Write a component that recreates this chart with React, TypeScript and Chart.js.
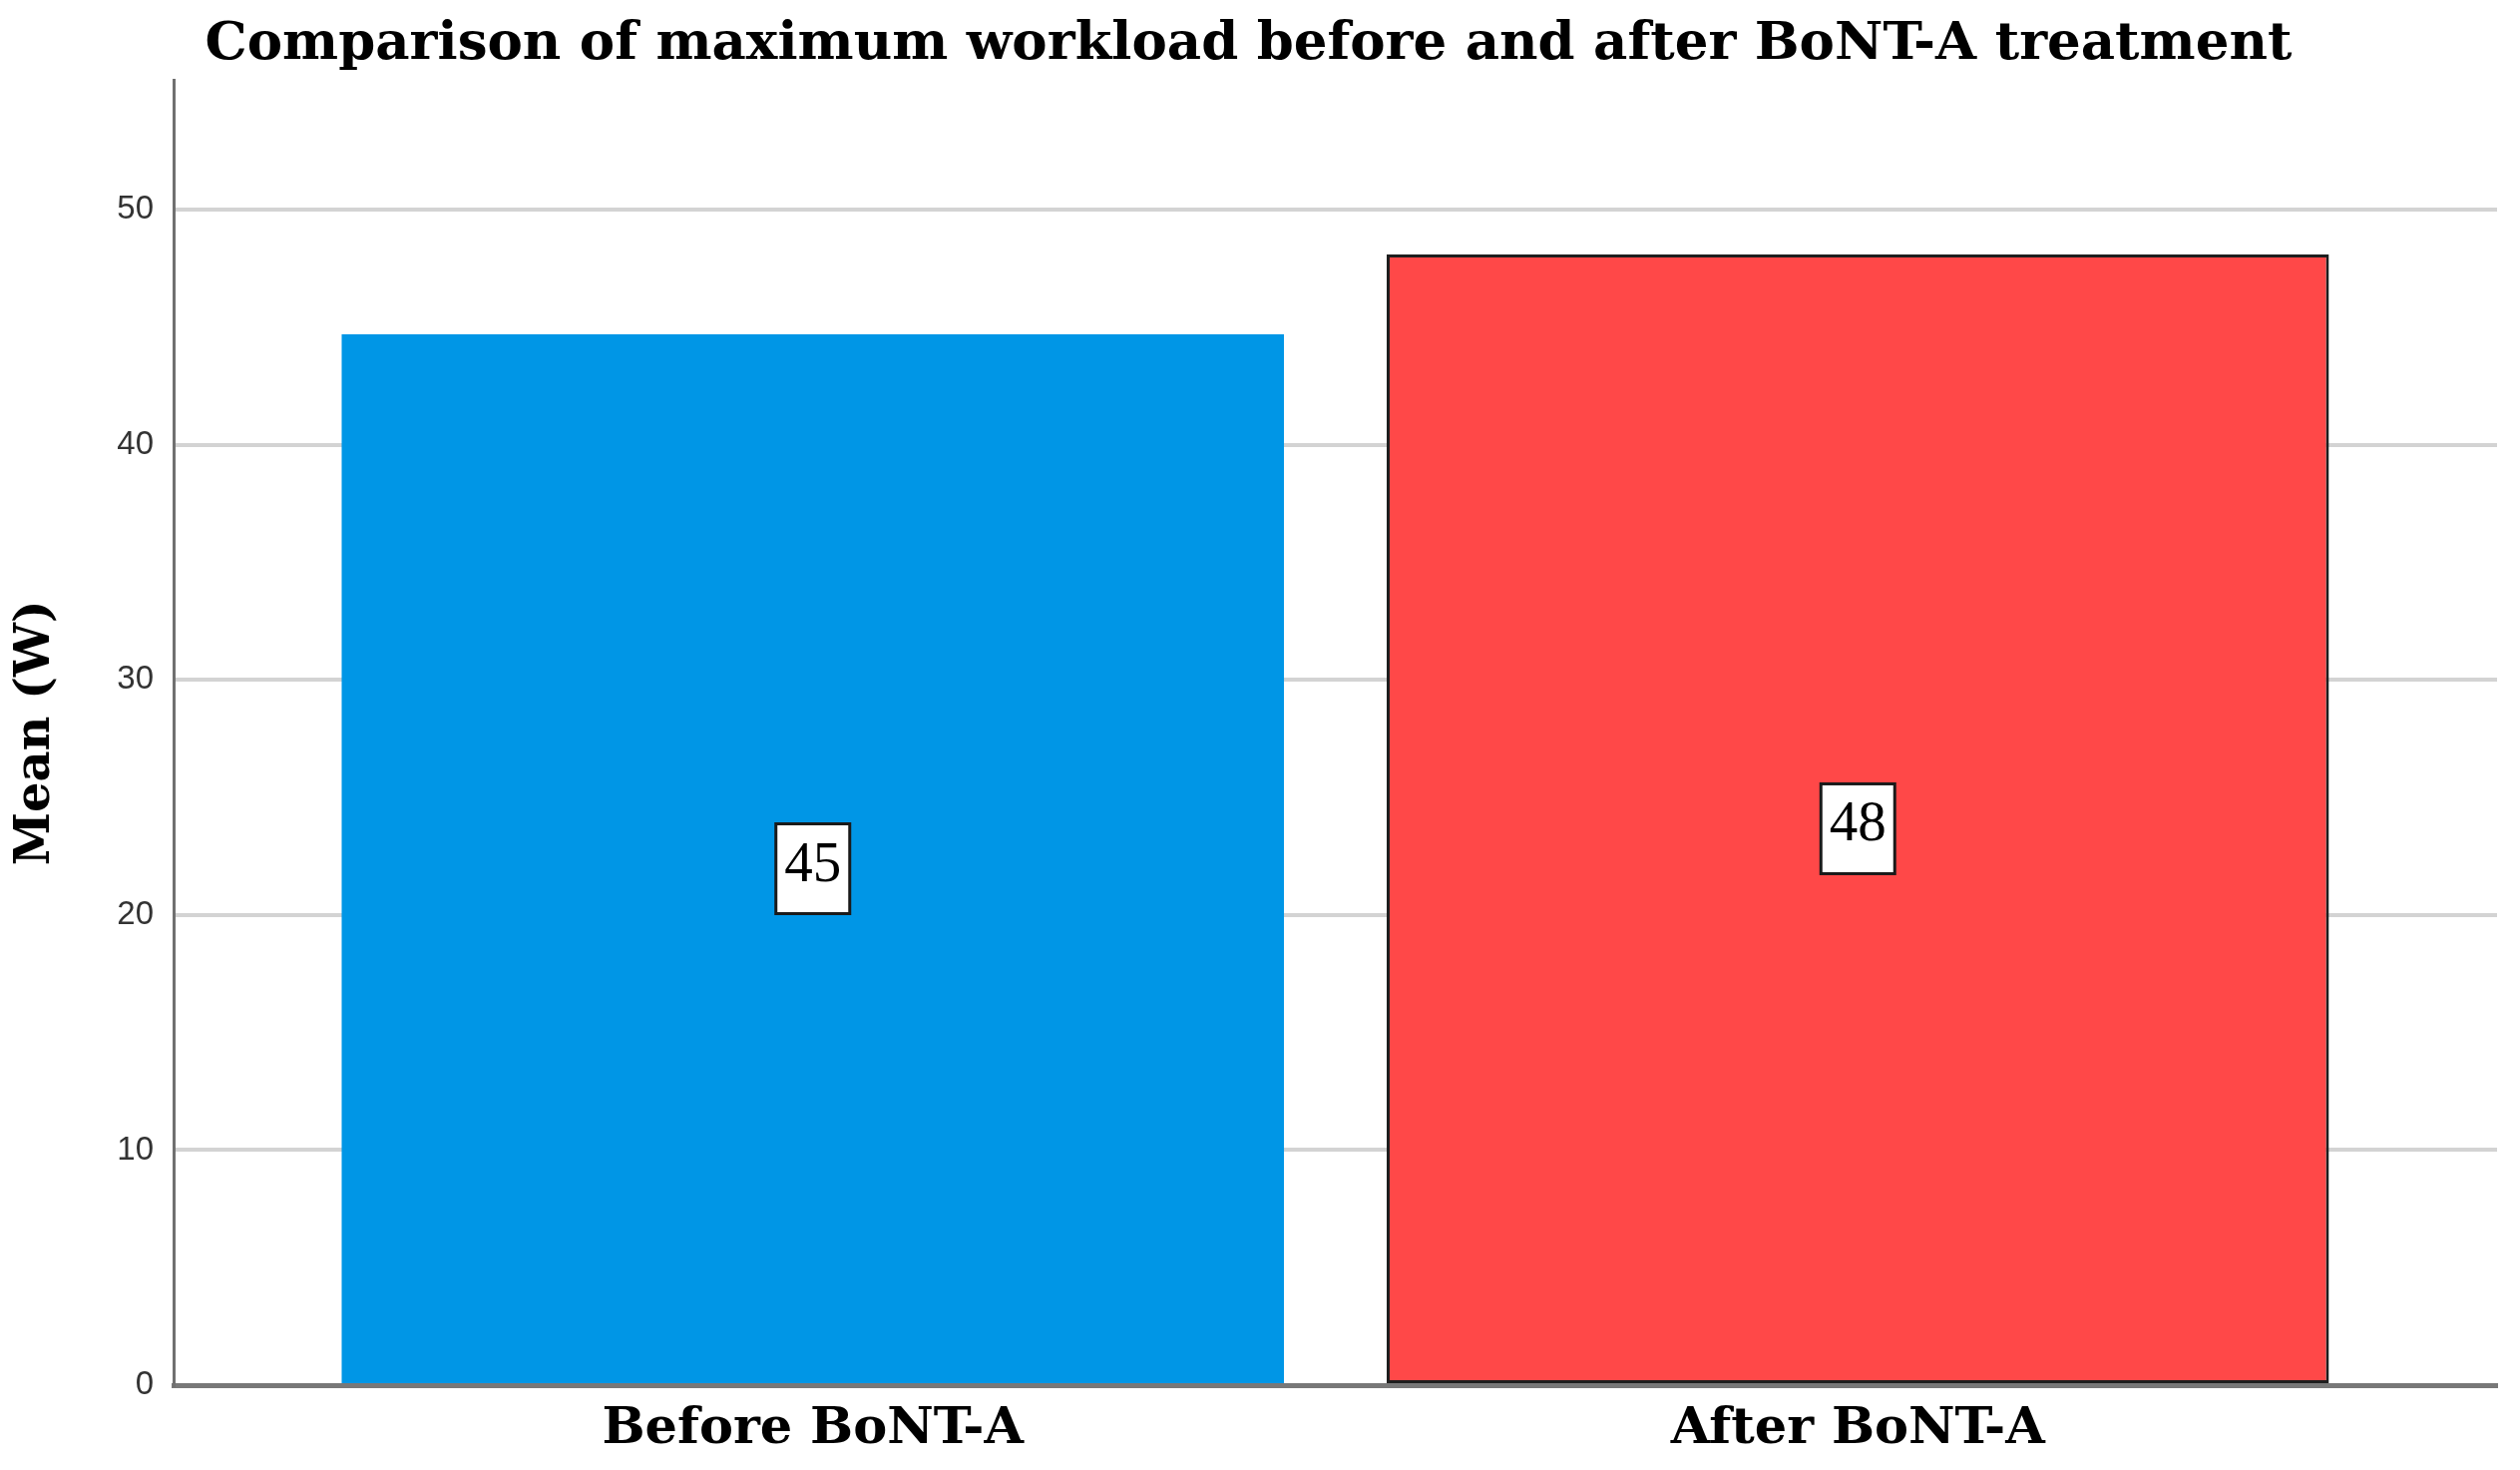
import { useEffect, useRef } from 'react';
import { Chart, registerables } from 'chart.js';

Chart.register(...registerables);

// values
const categories = ['Before BoNT-A', 'After BoNT-A'];
const meanWorkload = [44.7, 48.1];
const barColors = ['#0096e6', '#ff4848'];
const barBorderColors = ['#0096e6', '#1e1e1e'];
const barBorderWidths = [0, 3];
const yTicks = [0, 10, 20, 30, 40, 50];

// white boxes with the rounded mean inside each bar
const boxLabels = {
  id: 'boxLabels',
  afterDatasetsDraw(chart: Chart) {
    const { ctx } = chart;
    const meta = chart.getDatasetMeta(0);
    ctx.save();
    meta.data.forEach((bar: any, i: number) => {
      const mid = (bar.y + bar.base) / 2;
      const w = 74;
      const h = 90;
      const left = bar.x - w / 2;
      const top = mid - 35;
      ctx.fillStyle = '#ffffff';
      ctx.fillRect(left, top, w, h);
      ctx.lineWidth = 3;
      ctx.strokeStyle = '#1a1a1a';
      ctx.strokeRect(left, top, w, h);
      ctx.fillStyle = '#000000';
      ctx.font = '57px "Liberation Serif"';
      ctx.textAlign = 'center';
      ctx.textBaseline = 'alphabetic';
      ctx.fillText(String(Math.round(meanWorkload[i])), bar.x, top + 57);
    });
    ctx.restore();
  },
};

const App = () => {
  const chartRef = useRef<HTMLCanvasElement>(null);
  const chartInstance = useRef<Chart | null>(null);

  useEffect(() => {
    if (!chartRef.current) return;
    if (chartInstance.current) chartInstance.current.destroy();
    const ctx = chartRef.current.getContext('2d');
    if (!ctx) return;

    chartInstance.current = new Chart(ctx, {
      type: 'bar',
      data: {
        datasets: [
          {
            data: categories.map((c, i) => ({ x: i, y: meanWorkload[i] })),
            backgroundColor: barColors,
            borderColor: barBorderColors,
            borderWidth: barBorderWidths,
            borderSkipped: false,
            barPercentage: 0.9017,
            categoryPercentage: 1,
          },
        ],
      },
      options: {
        responsive: true,
        maintainAspectRatio: false,
        animation: false,
        layout: { padding: { left: 0, right: 23, top: 0, bottom: 0 } },
        plugins: {
          legend: { display: false },
          tooltip: { enabled: false },
          title: {
            display: true,
            text: 'Comparison of maximum workload before and after BoNT-A treatment',
            color: '#000000',
            font: { family: '"DejaVu Serif"', size: 53, weight: 'bold' },
            padding: { top: 13, bottom: 4 },
          },
        },
        scales: {
          x: {
            type: 'linear',
            min: -0.6117,
            max: 1.6117,
            offset: false,
            afterBuildTicks: (scale: any) => {
              scale.ticks = categories.map((c, i) => ({ value: i }));
            },
            afterFit: (scale: any) => {
              scale.height = 85;
            },
            grid: { display: false, drawTicks: false },
            border: { display: true, color: '#787878', width: 5 },
            ticks: {
              padding: 14,
              color: '#000000',
              font: { family: '"DejaVu Serif"', size: 51, weight: 'bold' },
              callback: (v: any) => categories[v] ?? '',
              maxRotation: 0,
            },
          },
          y: {
            min: 0,
            max: 55.5,
            afterBuildTicks: (scale: any) => {
              scale.ticks = yTicks.map(v => ({ value: v }));
            },
            afterFit: (scale: any) => {
              scale.width = 174;
            },
            grid: { color: '#d3d3d3', lineWidth: 4, drawTicks: false },
            border: { display: true, color: '#707070', width: 3 },
            ticks: {
              padding: 20,
              color: '#333333',
              font: { family: '"Liberation Sans"', size: 33 },
            },
            title: {
              display: true,
              text: 'Mean (W)',
              color: '#000000',
              font: { family: '"DejaVu Serif"', size: 48, weight: 'bold' },
              padding: { top: 8, bottom: 0 },
            },
          },
        },
      },
      plugins: [boxLabels],
    });

    return () => {
      if (chartInstance.current) {
        chartInstance.current.destroy();
        chartInstance.current = null;
      }
    };
  }, []);

  return (
    <div
      style={{
        position: 'absolute',
        left: 0,
        top: 0,
        width: 2526,
        height: 1473,
        background: '#ffffff',
      }}
    >
      <canvas ref={chartRef} />
    </div>
  );
};

export default App;
